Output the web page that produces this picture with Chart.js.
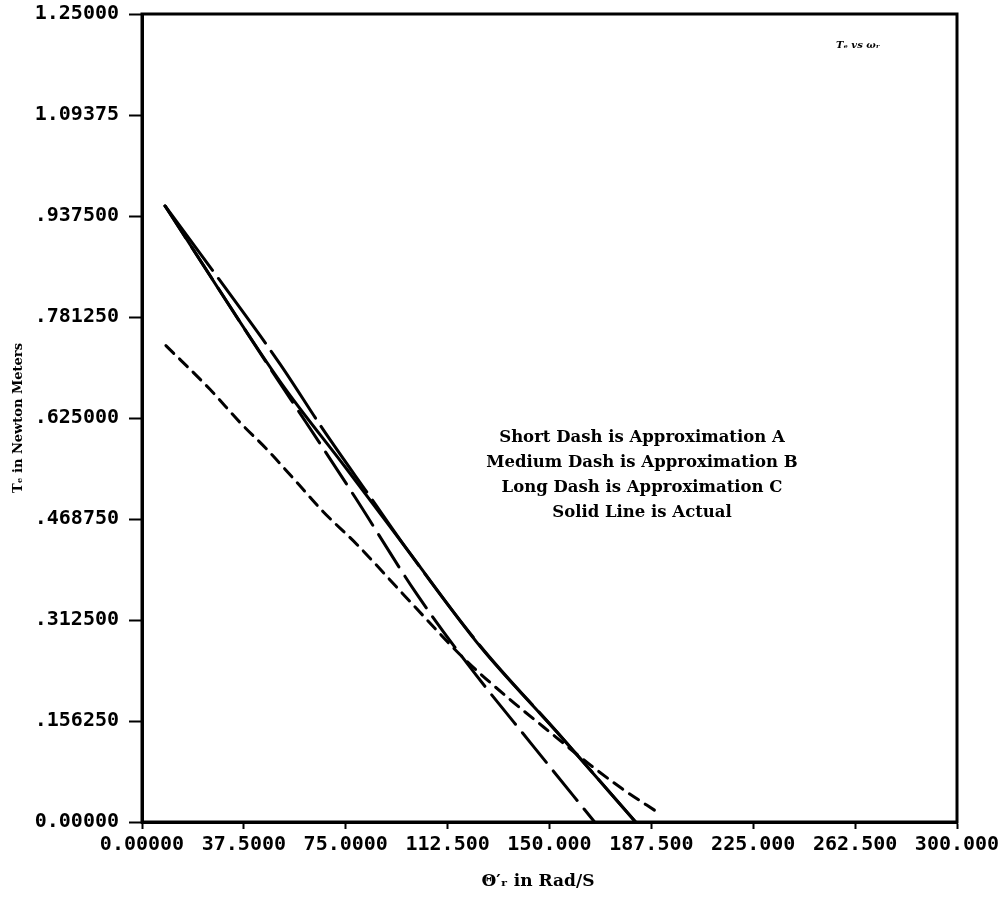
<!DOCTYPE html>
<html>
<head>
<meta charset="utf-8">
<script src="https://cdn.jsdelivr.net/npm/chart.js@4.4.1/dist/chart.umd.min.js"></script>
<style>
  html, body { margin: 0; padding: 0; background: #ffffff; }
  #wrap { width: 1008px; height: 901px; }
</style>
</head>
<body>
<div id="wrap"><canvas id="c" width="1008" height="901"></canvas></div>
<script>
// ---- Data ----
const xTickLabels = ["0.00000", "37.5000", "75.0000", "112.500", "150.000", "187.500", "225.000", "262.500", "300.000"];
const yTickLabels = ["0.00000", ".156250", ".312500", ".468750", ".625000", ".781250", ".937500", "1.09375", "1.25000"];

// Solid line: Actual
const actualX = [8.5, 50.9, 75.0, 97.7, 124.6, 153.0, 181.7];
const actualY = [0.953, 0.681, 0.548, 0.421, 0.271, 0.138, 0.0];

// Short dash: Approximation A
const approxAX = [8.8, 25.1, 36.1, 46.1, 57.1, 66.7, 79.2, 96.9, 119.0, 135.6, 147.8, 165.1, 176.9, 190.2];
const approxAY = [0.737, 0.669, 0.618, 0.576, 0.525, 0.480, 0.429, 0.349, 0.251, 0.189, 0.147, 0.088, 0.051, 0.014];

// Medium dash: Approximation B
const approxBX = [8.5, 50.9, 60.1, 78.5, 100.6, 120.1, 143.7, 166.6];
const approxBY = [0.953, 0.678, 0.620, 0.502, 0.356, 0.243, 0.119, 0.0];

// Long dash: Approximation C
const approxCX = [8.5, 26.2, 50.9, 66.7, 84.0, 97.7, 124.6, 153.0, 181.7];
const approxCY = [0.953, 0.852, 0.708, 0.607, 0.503, 0.421, 0.272, 0.138, 0.0];

const legendLines = [
  "Short Dash is Approximation A",
  "Medium Dash is Approximation B",
  "Long Dash is Approximation C",
  "Solid Line is Actual"
];
const cornerNote = "Tₑ vs ωᵣ";
const xTitle = "Θ′ᵣ in Rad/S";
const yTitle = "Tₑ in Newton Meters";

function pts(xs, ys) { return xs.map((x, i) => ({ x: x, y: ys[i] })); }

function series(label, xs, ys, dash) {
  return {
    label: label,
    data: pts(xs, ys),
    borderColor: "#000000",
    backgroundColor: "#000000",
    borderWidth: 3,
    borderDash: dash,
    borderCapStyle: "round",
    pointRadius: 0,
    showLine: true,
    fill: false,
    cubicInterpolationMode: "monotone"
  };
}

const boxAndText = {
  id: "boxAndText",
  afterDraw(chart) {
    const ctx = chart.ctx;
    const a = chart.chartArea;
    ctx.save();
    ctx.strokeStyle = "#000";
    ctx.lineWidth = 3;
    ctx.strokeRect(a.left, a.top, a.right - a.left, a.bottom - a.top);
    ctx.fillStyle = "#000";
    ctx.textBaseline = "middle";
    // legend text block
    ctx.textAlign = "center";
    ctx.font = "bold 16.5px 'DejaVu Serif'";
    legendLines.forEach((t, i) => ctx.fillText(t, 642, 438 + i * 25));
    // x axis title
    ctx.font = "bold 17px 'DejaVu Serif'";
    ctx.fillText(xTitle, 538, 882);
    // corner note
    ctx.font = "italic bold 10px 'DejaVu Serif'";
    ctx.textAlign = "left";
    ctx.fillText(cornerNote, 836, 45);
    ctx.restore();
  }
};

new Chart(document.getElementById("c"), {
  type: "scatter",
  data: {
    datasets: [
      series("Actual", actualX, actualY, []),
      series("Approximation A", approxAX, approxAY, [11, 8]),
      series("Approximation B", approxBX, approxBY, [38, 11]),
      series("Approximation C", approxCX, approxCY, [80, 10])
    ]
  },
  options: {
    responsive: false,
    devicePixelRatio: 1,
    animation: false,
    layout: { padding: { left: 0, right: 51, top: 14, bottom: 0 } },
    plugins: { legend: { display: false }, tooltip: { enabled: false } },
    scales: {
      x: {
        type: "linear",
        min: 0, max: 300,
        afterFit(s) { s.height = 79; s.paddingLeft = 0; s.paddingRight = 0; },
        ticks: {
          stepSize: 37.5,
          color: "#000",
          padding: 4,
          maxRotation: 0,
          autoSkip: false,
          font: { family: "'DejaVu Sans Mono'", size: 20, weight: "bold" },
          callback: (v) => xTickLabels[Math.round(v / 37.5)]
        },
        grid: { display: true, drawOnChartArea: false, drawTicks: true, tickLength: 7, tickColor: "#000", tickWidth: 2, color: "#000" },
        border: { display: true, color: "#000", width: 3 },
        title: { display: false }
      },
      y: {
        type: "linear",
        min: 0, max: 1.25,
        afterFit(s) { s.width = 142; s.paddingTop = 0; s.paddingBottom = 0; },
        ticks: {
          stepSize: 0.15625,
          color: "#000",
          padding: 10,
          autoSkip: false,
          font: { family: "'DejaVu Sans Mono'", size: 20, weight: "bold" },
          callback: (v) => yTickLabels[Math.round(v / 0.15625)]
        },
        grid: { display: true, drawOnChartArea: false, drawTicks: true, tickLength: 13, tickColor: "#000", tickWidth: 2, color: "#000" },
        border: { display: true, color: "#000", width: 3 },
        title: {
          display: true,
          text: yTitle,
          color: "#000",
          font: { family: "'DejaVu Serif'", size: 13, weight: "bold" },
          padding: { top: 11, bottom: 0 }
        }
      }
    }
  },
  plugins: [boxAndText]
});
</script>
</body>
</html>
